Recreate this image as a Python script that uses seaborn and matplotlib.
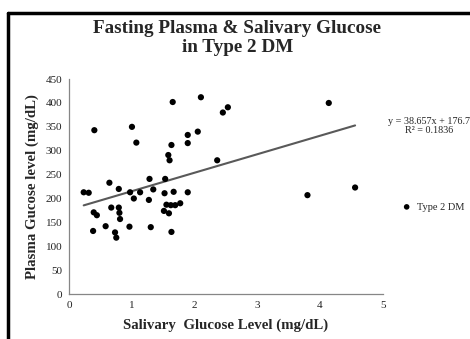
import numpy as np
import pandas as pd
import matplotlib
matplotlib.use("Agg")
import matplotlib.pyplot as plt
from matplotlib.lines import Line2D
import seaborn as sns

# Data
salivary = [0.23, 0.31, 0.40, 0.38, 0.39, 0.44, 0.58, 0.64, 0.67, 0.73,
            0.75, 0.79, 0.79, 0.80, 0.81, 0.96, 0.97, 1.00, 1.03, 1.07,
            1.13, 1.27, 1.28, 1.30, 1.34, 1.51, 1.52, 1.53, 1.55, 1.58,
            1.59, 1.60, 1.62, 1.63, 1.63, 1.65, 1.665, 1.69, 1.77, 1.89,
            1.89, 1.89, 2.05, 2.10, 2.36, 2.45, 2.53, 3.80, 4.14, 4.56]
plasma = [213, 212, 343, 132, 171, 165, 142, 233, 181, 129,
          118, 220, 181, 170, 157, 141, 213, 350, 200, 317,
          213, 197, 241, 140, 219, 174, 211, 241, 187, 291,
          169, 280, 186, 312, 130, 402, 214, 186, 190, 213,
          333, 316, 340, 412, 280, 380, 391, 207, 400, 223]
series_name = "Type 2 DM"
slope = 38.657
intercept = 176.7
r_squared = 0.1836
x_ticks = [0, 1, 2, 3, 4, 5]
y_ticks = [0, 50, 100, 150, 200, 250, 300, 350, 400, 450]

df = pd.DataFrame({"salivary": salivary, "plasma": plasma})

sns.set_style("white")
plt.rcParams["font.family"] = ["Liberation Serif", "DejaVu Serif"]

fig = plt.figure(figsize=(4.7, 3.39), dpi=100)
ax = fig.add_axes([0.1474, 0.1327, 0.6668, 0.634])

sns.scatterplot(data=df, x="salivary", y="plasma", ax=ax, color="black",
                s=20, edgecolor="none", label=series_name, zorder=3)

# Linear trendline across the data range
xs = np.array([min(salivary), max(salivary)])
ax.plot(xs, slope * xs + intercept, color="#595959", lw=1.5, zorder=2)

ax.set_xlim(0, 5)
ax.set_ylim(0, 450)
ax.set_xticks(x_ticks)
ax.set_yticks(y_ticks)
ax.tick_params(axis="both", direction="out", length=3, width=0.8,
               color="#868686", labelsize=8, labelcolor="#222222", pad=2)
for side in ["top", "right"]:
    ax.spines[side].set_visible(False)
for side in ["left", "bottom"]:
    ax.spines[side].set_color("#868686")
    ax.spines[side].set_linewidth(0.9)

ax.set_xlabel("Salivary  Glucose Level (mg/dL)", fontsize=10.7, fontweight="bold", labelpad=6)
ax.set_ylabel("Plasma Gucose level (mg/dL)", fontsize=10.7, fontweight="bold", labelpad=5)

leg = ax.legend(loc="center left", bbox_to_anchor=(1.03, 0.405), frameon=False,
                fontsize=7.5, handletextpad=0.0, markerscale=0.9, borderaxespad=0)

fig.text(0.505, 0.94, "Fasting Plasma & Salivary Glucose\nin Type 2 DM",
         ha="center", va="top", fontsize=13.8, fontweight="bold", linespacing=1.12)
fig.text(0.912, 0.628, f"y = {slope}x + {intercept}\nR² = {r_squared}",
         ha="center", va="center", fontsize=7.3, linespacing=1.1)

# Outer frame (top and left edges visible in the crop)
fig.add_artist(Line2D([0.018, 1.0], [0.963, 0.963], color="black", lw=2.5,
                      transform=fig.transFigure))
fig.add_artist(Line2D([0.018, 0.018], [0.0, 0.963], color="black", lw=2.5,
                      transform=fig.transFigure))

fig.savefig("out.png", dpi=100)
